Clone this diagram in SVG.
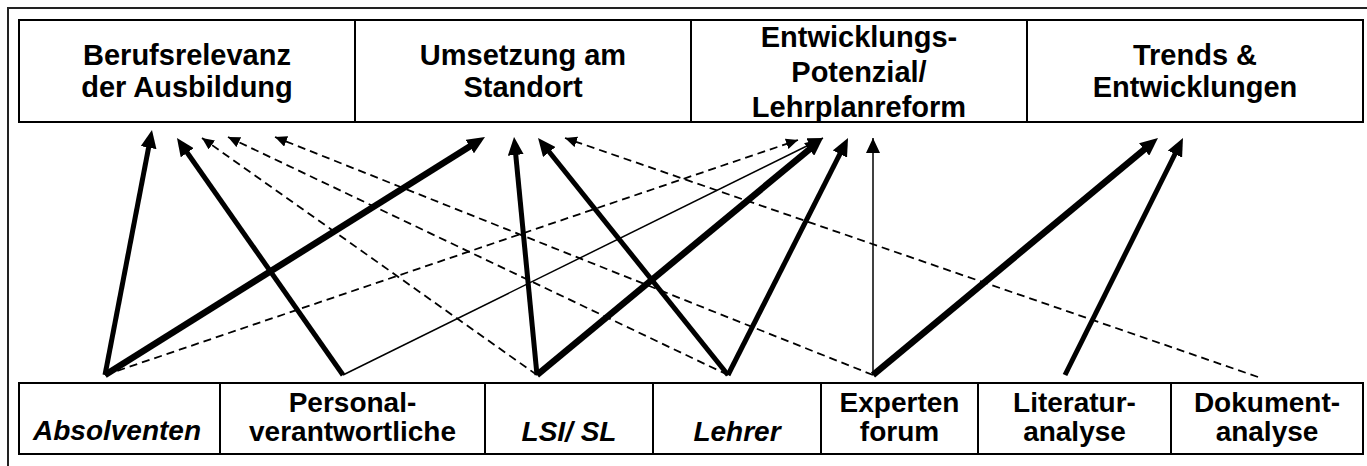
<svg xmlns="http://www.w3.org/2000/svg" width="1367" height="466" viewBox="0 0 1367 466">
<style>
.box{fill:#fff;stroke:#000;stroke-width:2}
.t{font-family:"Liberation Sans",Arial,sans-serif;font-weight:bold;font-size:28px;fill:#000;text-anchor:middle}
.h{font-size:29px}
.i{font-style:italic}
.thick{stroke:#000;stroke-width:5;fill:none;marker-end:url(#hk)}
.thicker{stroke:#000;stroke-width:6.5;fill:none;marker-end:url(#hk)}
.thin{stroke:#000;stroke-width:1.5;fill:none;marker-end:url(#hn)}
.dash{stroke:#000;stroke-width:1.8;fill:none;stroke-dasharray:8,5;marker-end:url(#hd)}
</style>
<defs>
<marker id="hk" markerUnits="userSpaceOnUse" markerWidth="18" markerHeight="16" viewBox="0 0 18 16" refX="8" refY="8" orient="auto"><path d="M0,0 L18,8 L0,16 z" fill="#000"/></marker>
<marker id="hn" markerUnits="userSpaceOnUse" markerWidth="15" markerHeight="14" viewBox="0 0 15 14" refX="15" refY="7" orient="auto"><path d="M0,0 L15,7 L0,14 z" fill="#000"/></marker>
<marker id="hd" markerUnits="userSpaceOnUse" markerWidth="12" markerHeight="11" viewBox="0 0 12 11" refX="12" refY="5.5" orient="auto"><path d="M0,0 L12,5.5 L0,11 z" fill="#000"/></marker>
</defs>
<rect width="1367" height="466" fill="#fff"/>
<path d="M8,466 V8 H1367" fill="none" stroke="#222" stroke-width="2"/>

<g id="berufsrelevanz"><rect class="box" x="19" y="20" width="336" height="102"/><text class="t h" x="187" y="65">Berufsrelevanz</text><text class="t h" x="187" y="97">der Ausbildung</text></g>
<g id="umsetzung"><rect class="box" x="355" y="20" width="336" height="102"/><text class="t h" x="523" y="65">Umsetzung am</text><text class="t h" x="523" y="97">Standort</text></g>
<g id="entwicklung"><rect class="box" x="691" y="20" width="336" height="102"/><text class="t h" x="859" y="47">Entwicklungs-</text><text class="t h" x="859" y="82">Potenzial/</text><text class="t h" x="859" y="117">Lehrplanreform</text></g>
<g id="trends"><rect class="box" x="1027" y="20" width="336" height="102"/><text class="t h" x="1195" y="65">Trends &amp;</text><text class="t h" x="1195" y="97">Entwicklungen</text></g>

<g id="absolventen"><rect class="box" x="19" y="383" width="201" height="71"/><text class="t i" x="117" y="440">Absolventen</text></g>
<g id="personal"><rect class="box" x="220" y="383" width="265" height="71"/><text class="t" x="352.5" y="412">Personal-</text><text class="t" x="352.5" y="441">verantwortliche</text></g>
<g id="lsi"><rect class="box" x="485" y="383" width="168" height="71"/><text class="t i" x="569" y="441">LSI/ SL</text></g>
<g id="lehrer"><rect class="box" x="653" y="383" width="168" height="71"/><text class="t i" x="737" y="441">Lehrer</text></g>
<g id="experten"><rect class="box" x="821" y="383" width="157" height="71"/><text class="t" x="899.5" y="412">Experten</text><text class="t" x="899.5" y="441">forum</text></g>
<g id="literatur"><rect class="box" x="978" y="383" width="193" height="71"/><text class="t" x="1074.5" y="412">Literatur-</text><text class="t" x="1074.5" y="441">analyse</text></g>
<g id="dokument"><rect class="box" x="1171" y="383" width="192" height="71"/><text class="t" x="1267" y="412">Dokument-</text><text class="t" x="1267" y="441">analyse</text></g>

<g id="connectors">
<line class="dash" x1="105" y1="375" x2="798" y2="140"/>
<line class="dash" x1="537" y1="375" x2="202" y2="138"/>
<line class="dash" x1="728" y1="375" x2="228" y2="137"/>
<line class="dash" x1="873" y1="375" x2="275" y2="137"/>
<line class="dash" x1="1258" y1="377" x2="565" y2="138"/>
<line class="thin" x1="343" y1="375" x2="823" y2="138"/>
<line class="thin" x1="873" y1="375" x2="873" y2="138"/>
<line class="thick" x1="105" y1="375" x2="150.1" y2="139.8"/>
<line class="thicker" x1="105" y1="375" x2="476.5" y2="142.3"/>
<line class="thick" x1="343" y1="375" x2="182.7" y2="146.2"/>
<line class="thick" x1="537" y1="375" x2="515" y2="147"/>
<line class="thicker" x1="537" y1="375" x2="815.3" y2="144.4"/>
<line class="thick" x1="728" y1="375" x2="544.3" y2="145.8"/>
<line class="thick" x1="728" y1="375" x2="843.5" y2="146.9"/>
<line class="thicker" x1="873" y1="375" x2="1150.3" y2="144.4"/>
<line class="thick" x1="1065" y1="375" x2="1178.5" y2="147"/>
</g>
</svg>
